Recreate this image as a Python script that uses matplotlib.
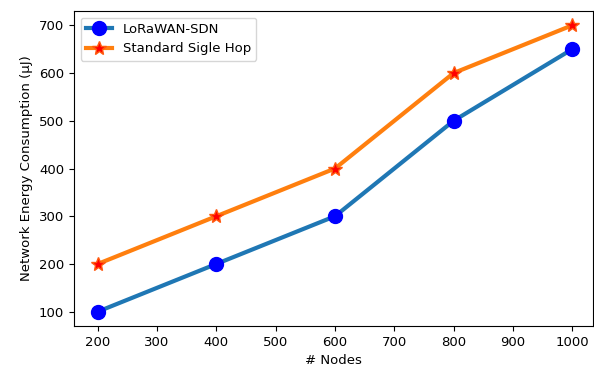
import matplotlib
matplotlib.use('Agg')
import matplotlib.pyplot as plt

nodes = [200, 400, 600, 800, 1000]
sdn_energy = [100, 200, 300, 500, 650]
single_hop_energy = [200, 300, 400, 600, 700]

plt.rcParams['font.size'] = 9.5

fig = plt.figure(figsize=(5.94, 3.69), dpi=100)
ax = fig.add_axes([74 / 594., 1 - 326 / 369., (593 - 74) / 594., (326 - 11) / 369.])

ax.plot(nodes, sdn_energy, '-o', linewidth=3, color='#1f77b4', mfc='blue', mec='blue',
        ms=10, label='LoRaWAN-SDN')
ax.plot(nodes, single_hop_energy, '-*', linewidth=3, color='#ff7f0e', mfc='red', mec='#ff5a0e',
        ms=10, label='Standard Sigle Hop')

ax.set_xlim(160, 1035)
ax.set_ylim(70, 730)
ax.set_xticks([200, 300, 400, 500, 600, 700, 800, 900, 1000])
ax.set_xlabel('# Nodes')
ax.set_ylabel('Network Energy Consumption (μJ)')
ax.legend(loc='upper left')

fig.savefig('out.png', dpi=100)
